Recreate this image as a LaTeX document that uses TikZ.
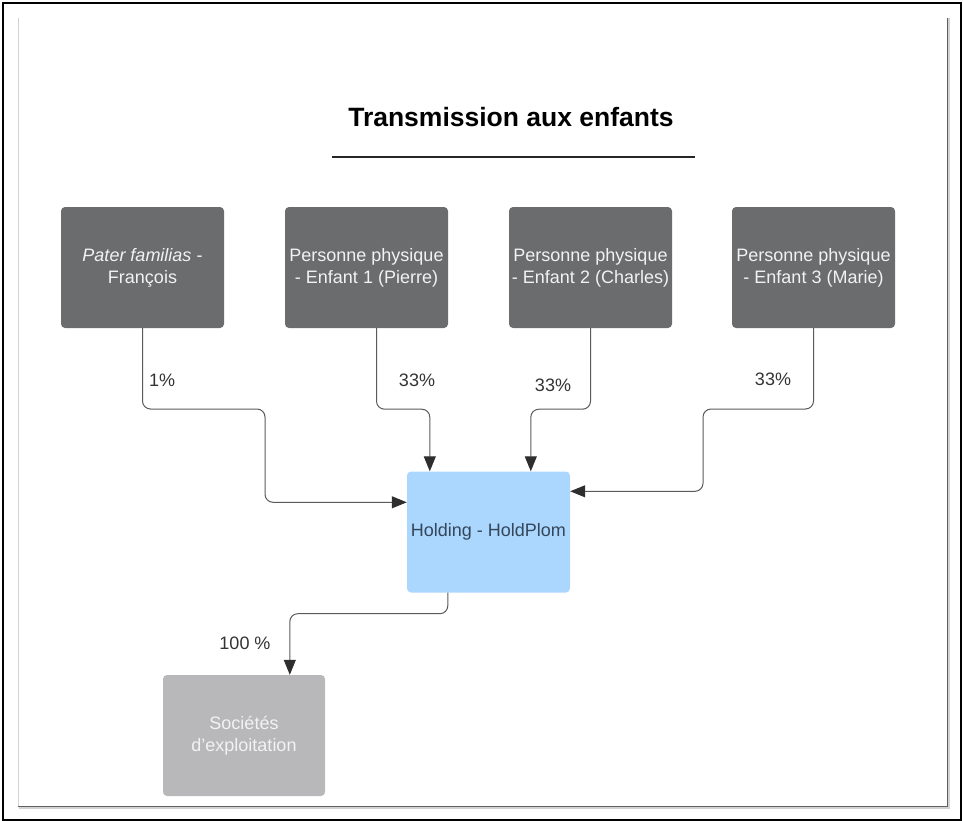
\documentclass[tikz,border=0pt]{standalone}
\usepackage{fontspec}
\setmainfont{Liberation Sans}
\usetikzlibrary{arrows.meta}

\definecolor{boxdark}{HTML}{6B6C6E}
\definecolor{boxblue}{HTML}{ABD6FD}
\definecolor{boxlight}{HTML}{B8B8BA}
\definecolor{linegray}{HTML}{5A5A5A}
\definecolor{tipgray}{HTML}{2E2E2E}
\definecolor{labelgray}{HTML}{333333}
\definecolor{holdtext}{HTML}{34465A}

\tikzset{
  entity/.style={rectangle, rounded corners=4pt, inner sep=0pt,
    minimum width=163pt, minimum height=121pt, align=center,
    font=\fontsize{18}{22}\selectfont},
  person/.style={entity, fill=boxdark, text=white!95!black},
  holding/.style={entity, fill=boxblue, text=holdtext},
  company/.style={entity, fill=boxlight, text=white!95!black, minimum width=162pt},
  conn/.style={draw=linegray, line width=1pt, rounded corners=8pt,
    -{Triangle[length=15pt,width=12pt,fill=tipgray,color=tipgray]}},
  share/.style={text=labelgray, font=\fontsize{18}{22}\selectfont, inner sep=0pt},
}

\begin{document}
\begin{tikzpicture}[x=1pt,y=-1pt]
  \useasboundingbox (0,0) rectangle (963,821);

  % page frames
  \draw[black, line width=2pt] (3,3) rectangle (960.5,819.5);
  \draw[gray!35, line width=0.8pt] (18,18) -- (18,806);
  \draw[gray!35, line width=1.6pt] (19,808) -- (949,808) -- (949,18);
  \draw[gray!75!black, line width=0.9pt] (18,806) -- (947,806) -- (947,18);

  % title
  \node (title) at (511,117) {\fontsize{26.5}{30}\selectfont\bfseries Transmission aux enfants};
  \draw[black!85, line width=2pt] (332,157) -- (695,157);

  % owners
  \node[person] (pater) at (142.5,267.5) {\textit{Pater familias} -\\François};
  \node[person] (pierre) at (366.5,267.5) {Personne physique\\- Enfant 1 (Pierre)};
  \node[person] (charles) at (590.5,267.5) {Personne physique\\- Enfant 2 (Charles)};
  \node[person] (marie) at (813.5,267.5) {Personne physique\\- Enfant 3 (Marie)};

  % holding and operating companies
  \node[holding] (hold) at (488.5,532) {Holding - HoldPlom};
  \node[company] (soc) at (244,735.5) {Sociétés\\d'exploitation};

  % shareholdings
  \draw[conn] (pater.south) |- (265,409) |- ([yshift=-31pt]hold.north west);
  \draw[conn] ([xshift=10pt]pierre.south) -- ++(0,81) -| ([xshift=23pt]hold.north west);
  \draw[conn] (charles.south) -- ++(0,81) -| ([xshift=124pt]hold.north west);
  \draw[conn] (marie.south) |- (703,409) |- ([yshift=-20pt]hold.north east);
  \draw[conn] ([xshift=41pt]hold.south west) -- ++(0,21) -| ([xshift=127pt]soc.north west);

  % percentages
  \node[share, anchor=west] (p1) at (149,380) {1\%};
  \node[share] (p2) at (417,380) {33\%};
  \node[share] (p3) at (553,385) {33\%};
  \node[share] (p4) at (773,379) {33\%};
  \node[share] (p5) at (245,643) {100 \%};
\end{tikzpicture}
\end{document}
